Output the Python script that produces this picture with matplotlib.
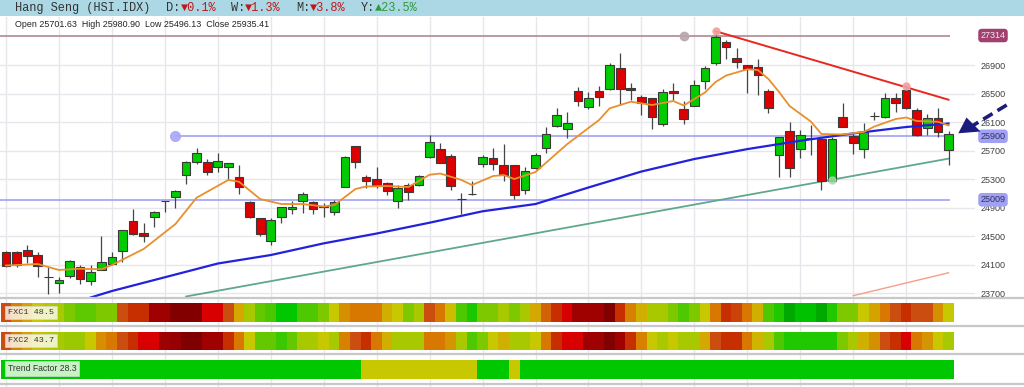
import numpy as np
import matplotlib
matplotlib.use("Agg")
import matplotlib.pyplot as plt
from matplotlib.colors import LinearSegmentedColormap
from matplotlib.patches import Rectangle, Polygon
from matplotlib.transforms import blended_transform_factory

# ---- data ----
opens = [24275, 24270, 24304, 24229, 23925, 23836, 23932, 24061, 23873, 24023,
         24107, 24294, 24715, 24546, 24762, 24990, 25043, 25360, 25534, 25534,
         25473, 25464, 25332, 24981, 24748, 24434, 24762, 24875, 24995, 24977,
         24921, 24841, 25192, 25763, 25324, 25296, 25240, 24991, 25212, 25216,
         25613, 25717, 25623, 25022, 25089, 25510, 25591, 25496, 25492, 25146,
         25450, 25731, 26044, 25998, 26535, 26315, 26535, 26559, 26862, 26582,
         26455, 26433, 26072, 26535, 26278, 26324, 26680, 26932, 27219, 26993,
         26900, 26868, 26539, 25641, 25974, 25725, 25880, 25861, 25270, 26166,
         25903, 25725, 26180, 26166, 26433, 26549, 26268, 26012, 26160, 25701.63]
highs = [24289, 24285, 24374, 24275, 24065, 23929, 24163, 24093, 24093, 24504,
         24280, 24590, 24875, 24678, 24845, 24998, 25140, 25550, 25739, 25585,
         25661, 25525, 25492, 24995, 24755, 24748, 24910, 24995, 25122, 24985,
         24959, 25005, 25620, 25770, 25356, 25473, 25262, 25216, 25240, 25356,
         25917, 25809, 25651, 25099, 25276, 25637, 25731, 25787, 25500, 25473,
         25661, 26026, 26292, 26245, 26587, 26525, 26605, 26932, 27064, 26644,
         26479, 26440, 26559, 26644, 26399, 26689, 26890, 27360, 27251, 27143,
         26905, 26980, 26563, 25890, 26104, 25988, 26058, 25865, 25894, 26371,
         25941, 26082, 26245, 26503, 26503, 26619, 26296, 26208, 26292, 25980.90]
lows = [24065, 24070, 24121, 23929, 23686, 23700, 23904, 23822, 23812, 24020,
        24100, 24139, 24520, 24420, 24622, 24841, 24897, 25226, 25506, 25360,
        25398, 25287, 25085, 24748, 24500, 24374, 24687, 24809, 24819, 24805,
        24771, 24795, 25185, 25450, 25167, 25167, 25075, 24888, 25005, 25202,
        25591, 25520, 25146, 24809, 25075, 25473, 25426, 25276, 25024, 25089,
        25445, 25669, 26026, 25871, 26324, 26278, 26324, 26550, 26339, 26409,
        26198, 25998, 26044, 26409, 26072, 26318, 26559, 26900, 26980, 26862,
        26511, 26479, 26231, 25332, 25332, 25599, 25637, 25146, 25270, 26030,
        25651, 25591, 26128, 26160, 26245, 26285, 25910, 25917, 25894, 25496.13]
closes = [24086, 24090, 24224, 24079, 23925, 23882, 24149, 23892, 23999, 24139,
          24201, 24584, 24528, 24504, 24837, 24995, 25136, 25543, 25661, 25398,
          25557, 25520, 25192, 24771, 24524, 24725, 24902, 24911, 25085, 24875,
          24907, 24977, 25613, 25534, 25276, 25202, 25132, 25169, 25113, 25342,
          25823, 25529, 25206, 25016, 25089, 25613, 25510, 25356, 25075, 25416,
          25637, 25936, 26198, 26090, 26399, 26441, 26447, 26900, 26559, 26549,
          26363, 26175, 26517, 26503, 26142, 26619, 26853, 27293, 27148, 26945,
          26840, 26760, 26301, 25885, 25450, 25917, 25880, 25268, 25861, 26034,
          25801, 25964, 26188, 26433, 26363, 26292, 25917, 26160, 25964, 25935.41]

# moving averages sampled at candle indices
ma_fast_idx = [0, 3, 5, 7, 9, 10, 13, 16, 18, 21, 22, 24, 26, 28, 30, 31, 32, 33, 34, 36,
               38, 40, 41, 43, 44, 46, 47, 48, 50, 53, 56, 57, 59, 61, 63, 64, 66, 67, 68,
               70, 71, 72, 73, 74, 76, 77, 79, 81, 82, 84, 85, 86, 88, 89]
ma_fast = [24086, 24107, 24023, 24041, 24033, 24093, 24318, 24668, 25038, 25287, 25262,
           25019, 24949, 24949, 24914, 24935, 25047, 25160, 25195, 25202, 25188, 25360,
           25377, 25287, 25216, 25342, 25356, 25300, 25398, 25791, 26128, 26292, 26385,
           26339, 26395, 26332, 26514, 26661, 26753, 26840, 26830, 26703, 26521, 26324,
           26107, 25932, 25925, 25960, 26037, 26142, 26163, 26114, 26104, 26051]
ma_slow_idx = [8, 10, 20, 25, 30, 35, 40, 45, 50, 55, 60, 65, 70, 75, 80, 85, 89]
ma_slow = [23637, 23728, 24114, 24233, 24397, 24535, 24687, 24847, 24949, 25181,
           25405, 25581, 25720, 25837, 25940, 26030, 26079]

# drawn trend lines: (index, price) endpoints
res_line = ([67, 89], [27375, 26413])
sup_line = ([17, 89], [23651, 25586])
chan_line = ([80, 89], [23662, 23984])

# horizontal levels: price, start index, colour of label box
levels = [27314, 25900, 25009]
level_start = [-0.6, 16, -0.6]

price_ticks = [23700, 24100, 24500, 24900, 25300, 25700, 26100, 26500, 26900]

fxc1 = [34, 44, 50, 56, 60, 62, 68, 73, 73, 68, 68, 34, 28, 28, 10, 10, 3, 3, 3, 20,
        20, 34, 51, 62, 72, 76, 88, 88, 75, 75, 68, 56, 47, 42, 42, 42, 52, 56, 68, 62,
        34, 42, 54, 75, 83, 68, 68, 62, 68, 62, 51, 38, 28, 20, 10, 10, 10, 3, 28, 44,
        52, 62, 62, 68, 75, 68, 56, 42, 28, 32, 42, 52, 75, 82, 97, 90, 90, 97, 82, 68,
        68, 56, 50, 42, 34, 28, 34, 34, 47, 56]
fxc2 = [34, 44, 50, 55, 60, 62, 64, 64, 56, 47, 42, 34, 28, 20, 20, 10, 8, 2, 2, 10,
        10, 28, 42, 56, 72, 72, 78, 72, 62, 62, 56, 62, 44, 34, 28, 42, 52, 62, 62, 62,
        42, 42, 48, 62, 75, 68, 56, 52, 62, 62, 56, 42, 28, 20, 20, 10, 10, 3, 10, 28,
        44, 56, 62, 56, 62, 62, 51, 34, 28, 28, 42, 53, 62, 75, 82, 82, 82, 82, 82, 68,
        62, 52, 47, 34, 28, 20, 42, 48, 56, 62]
trend = [88] * 34 + [56] * 11 + [88] * 3 + [56] + [88] * 41

# ---- layout helpers (pixels of a 1024x387 canvas) ----
W, H = 1024, 387
step = 10.59
x0 = 6.0
right_px = 975
xlim = (-x0 / step, (right_px - x0) / step)


def fig_rect(left, top, right, bottom):
    return [left / W, 1 - bottom / H, (right - left) / W, (bottom - top) / H]


fig = plt.figure(figsize=(10.24, 3.87), dpi=100)
fig.patch.set_facecolor("white")

grid_col = "#e6e6ec"
grid_idx = list(range(0, 90, 5))

# ---- main price panel ----
ax = fig.add_axes(fig_rect(0, 17, right_px, 297))
ax.set_xlim(*xlim)
ax.set_ylim(23644, 27574)
for s in ax.spines.values():
    s.set_visible(False)
ax.set_xticks(grid_idx)
ax.set_xticklabels([])
ax.yaxis.tick_right()
ax.set_yticks(price_ticks)
ax.set_yticklabels([str(t) for t in price_ticks], fontsize=6.5, color="#404040",
                   family="Liberation Sans")
ax.tick_params(length=0, pad=3.8)
ax.grid(True, color=grid_col, lw=1.0)
ax.set_axisbelow(True)

x = np.arange(len(opens))
o, h, l, c = map(np.array, (opens, highs, lows, closes))
body_col = np.where(c >= o, "#00cc00", "#dd0000")
ax.vlines(x, l, h, color="#454545", lw=0.9, zorder=3)
ax.bar(x, c - o, bottom=o, width=0.82, color=body_col, edgecolor="#3a3a3a",
       linewidth=0.8, zorder=4)

# levels
level_cols = ["#b8909c", "#a8a8f6", "#a8a8f6"]
for lv, st, col in zip(levels, level_start, level_cols):
    ax.hlines(lv, st, 89.1, color=col, lw=1.3, zorder=2)

ax.plot(ma_slow_idx, ma_slow, color="#2222dd", lw=1.6, zorder=5)
ax.plot(ma_fast_idx, ma_fast, color="#e8902c", lw=1.3, zorder=5)
ax.plot(*sup_line, color="#5fa88a", lw=1.3, zorder=2)
ax.plot(*res_line, color="#e8281e", lw=1.4, zorder=5)
ax.plot(*chan_line, color="#f4a088", lw=1.0, zorder=2)

# anchor dots
ax.plot([64], [27314], "o", ms=6, color="#b8a6b0", alpha=0.9, zorder=6)
ax.plot([16], [25900], "o", ms=7, color="#a8a8f8", alpha=0.9, zorder=6)
ax.plot([67, 85], [27375, 26609], "o", ms=5, color="#f4a0a0", alpha=0.9, zorder=6)
ax.plot([78], [25292], "o", ms=5, color="#a8d8b0", alpha=0.8, zorder=6)

# price labels in boxes
tr = blended_transform_factory(ax.transAxes, ax.transData)
box_fc = ["#a0406e", "#a0a0f4", "#a0a0f4"]
box_tc = ["#f4e8f0", "#303060", "#303060"]
for lv, fc, tc in zip(levels, box_fc, box_tc):
    ax.text(1 + 5.5 / right_px, lv, str(lv), transform=tr, ha="left", va="center",
            fontsize=6.5, color=tc, family="Liberation Sans", zorder=10, clip_on=False,
            bbox=dict(boxstyle="round,pad=0.25,rounding_size=0.4", fc=fc, ec="none"))

# ---- lower panel background (grid + separators) ----
axg = fig.add_axes(fig_rect(0, 297, right_px, 387))
axg.set_xlim(*xlim)
axg.set_ylim(1, 0)
axg.axis("off")
for gi in grid_idx:
    axg.axvline(gi, color=grid_col, lw=1.0)

# heat strips
anchors = [(0, "#780000"), (10, "#a00000"), (20, "#d80000"), (28, "#c83000"),
           (34, "#cc4c10"), (42, "#d87800"), (47, "#d49000"), (51, "#d4a800"),
           (56, "#c8c800"), (62, "#a8c800"), (68, "#80c800"), (75, "#50c800"),
           (82, "#20c800"), (88, "#00c800"), (100, "#00a000")]
cmap = LinearSegmentedColormap.from_list("fx", [(v / 100, col) for v, col in anchors])

strips = [(fxc1, 303, 321.5), (fxc2, 331.5, 350), (trend, 360, 378.5)]
for vals, top, bot in strips:
    sa = fig.add_axes(fig_rect(0, top, right_px, bot))
    sa.set_xlim(*xlim)
    sa.set_ylim(0, 1)
    sa.axis("off")
    sa.bar(x, 1, width=1.02, bottom=0, color=cmap(np.array(vals) / 100), linewidth=0)

# ---- overlay in pixel coordinates ----
ov = fig.add_axes([0, 0, 1, 1])
ov.set_xlim(0, W)
ov.set_ylim(H, 0)
ov.axis("off")

ov.add_patch(Rectangle((0, 0), W, 15.5, color="#acd8e6", lw=0))
ov.hlines([298, 326, 354, 383.5], 0, W, color="#c8c8c8", lw=1.6)

mono = ["Liberation Mono", "DejaVu Sans Mono"]
cw = 7.2
head = [("Hang Seng (HSI.IDX)", 0, "#333333"),
        ("D:", 21, "#333333"), ("\u25bc0.1%", 23, "#c01818"),
        ("W:", 30, "#333333"), ("\u25bc1.3%", 32, "#c01818"),
        ("M:", 39, "#333333"), ("\u25bc3.8%", 41, "#c01818"),
        ("Y:", 48, "#333333"), ("\u25b223.5%", 50, "#2e9a3a")]
for s, ci, col in head:
    ov.text(15 + ci * cw, 8.2, s, family=mono, fontsize=8.6, color=col,
            ha="left", va="center")

ohlc = (f"Open {opens[-1]:.2f}  High {highs[-1]:.2f}  "
        f"Low {lows[-1]:.2f}  Close {closes[-1]:.2f}")
ov.text(15, 24.5, ohlc, family="Liberation Sans", fontsize=6.4, color="#222222",
        ha="left", va="center")

lab_box = dict(boxstyle="square,pad=0.3", fc="white", ec="#d8d8d8", alpha=0.78, lw=0.6)
ov.text(8, 312.5, "FXC1 48.5", family=mono, fontsize=6.1, color="#333333",
        va="center", bbox=lab_box)
ov.text(8, 340.5, "FXC2 43.7", family=mono, fontsize=6.1, color="#333333",
        va="center", bbox=lab_box)
ov.text(8, 368.5, "Trend Factor 28.3", family="Liberation Sans", fontsize=6.2,
        color="#333333", va="center", bbox=lab_box)

# pointer arrow
navy = "#1c1c7c"
ov.plot([1006.7, 973], [105, 125.5], color=navy, lw=2.6, ls=(0, (3, 1.6)),
        solid_capstyle="butt")
ov.add_patch(Polygon([[958.3, 133.3], [966.5, 117.5], [980.5, 131.5]], closed=True,
                     color=navy, lw=0))

fig.savefig("out.png", dpi=100)
